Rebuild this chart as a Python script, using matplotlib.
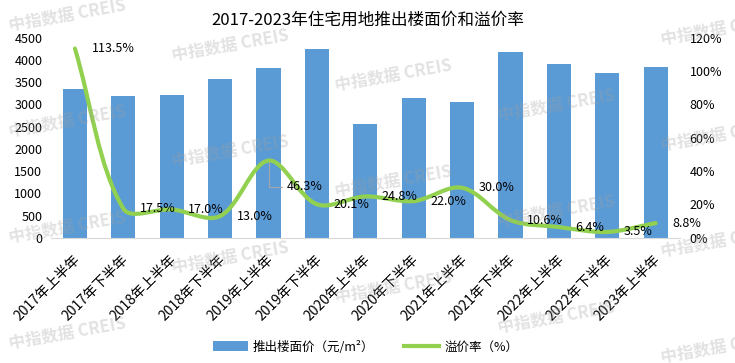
import matplotlib
matplotlib.use("Agg")
import matplotlib.pyplot as plt
from matplotlib.path import Path
from matplotlib.patches import PathPatch, Patch
from matplotlib.lines import Line2D

plt.rcParams['font.family'] = ['Noto Sans CJK SC', 'DejaVu Sans']

periods = ["2017年上半年", "2017年下半年", "2018年上半年", "2018年下半年", "2019年上半年",
           "2019年下半年", "2020年上半年", "2020年下半年", "2021年上半年", "2021年下半年",
           "2022年上半年", "2022年下半年", "2023年上半年"]
price = [3350, 3190, 3210, 3570, 3820, 4245, 2560, 3145, 3055, 4180, 3915, 3705, 3840]
premium = [113.5, 17.5, 17.0, 13.0, 46.3, 20.1, 24.8, 22.0, 30.0, 10.6, 6.4, 3.5, 8.8]
premium_labels = ["113.5%", "17.5%", "17.0%", "13.0%", "46.3%", "20.1%", "24.8%",
                  "22.0%", "30.0%", "10.6%", "6.4%", "3.5%", "8.8%"]

BLUE = "#5B9BD5"
GREEN = "#92D050"

fig = plt.figure(figsize=(7.35, 3.63), dpi=100)
ax = fig.add_axes([0.069, 0.345, 0.856, 0.551])
ax2 = ax.twinx()

x = list(range(len(periods)))
ax.bar(x, price, width=0.5, color=BLUE, zorder=2)
ax.set_xlim(-0.5, len(periods) - 0.5)
ax.set_ylim(0, 4500)
ax.set_yticks(range(0, 4501, 500))
ax.set_xticks(x)
ax.set_xticklabels([])
# category labels, slanted
for i, p in enumerate(periods):
    ax.annotate(p, xy=(i, 0), xycoords=('data', 'axes fraction'), xytext=(2, -14),
                textcoords='offset points', rotation=45, ha='right', va='center',
                rotation_mode='anchor', fontsize=10, annotation_clip=False)
ax.tick_params(axis='y', length=0, labelsize=9, pad=6)
ax.tick_params(axis='x', length=0)
for s in ['top', 'right', 'left']:
    ax.spines[s].set_visible(False)
ax.spines['bottom'].set_color('#d9d9d9')

ax2.set_ylim(0, 120)
ax2.set_yticks(range(0, 121, 20))
ax2.set_yticklabels([f"{v}%" for v in range(0, 121, 20)])
ax2.tick_params(axis='y', length=0, labelsize=9, pad=7)
for s in ax2.spines.values():
    s.set_visible(False)

# smoothed line like Excel: bezier control points scaled by segment lengths on screen
pix = ax2.transData.transform(list(zip(x, premium)))
n = len(pix)


def dist(a, b):
    return ((a[0] - b[0]) ** 2 + (a[1] - b[1]) ** 2) ** 0.5


verts = [tuple(pix[0])]
codes = [Path.MOVETO]
for i in range(n - 1):
    p0 = pix[max(i - 1, 0)]
    p1 = pix[i]
    p2 = pix[i + 1]
    p3 = pix[min(i + 2, n - 1)]
    d01, d12, d23 = dist(p0, p1), dist(p1, p2), dist(p2, p3)
    f1 = d12 / (d01 + d12) / 3
    f2 = d12 / (d12 + d23) / 3
    c1 = (p1[0] + (p2[0] - p0[0]) * f1, p1[1] + (p2[1] - p0[1]) * f1)
    c2 = (p2[0] - (p3[0] - p1[0]) * f2, p2[1] - (p3[1] - p1[1]) * f2)
    verts += [c1, c2, tuple(p2)]
    codes += [Path.CURVE4] * 3
verts = ax2.transData.inverted().transform(verts)
ax2.add_patch(PathPatch(Path(verts, codes), facecolor='none', edgecolor=GREEN,
                        lw=3, capstyle='round', zorder=3))

for i, (v, lab) in enumerate(zip(premium, premium_labels)):
    if i == 4:
        ax2.annotate(lab, xy=(i, v), xytext=(13, -19), textcoords='offset points',
                     ha='left', va='center', fontsize=9,
                     arrowprops=dict(arrowstyle='-', color='#a6a6a6', lw=0.8,
                                     connectionstyle='angle,angleA=0,angleB=90',
                                     relpos=(0, 0.5), shrinkA=1, shrinkB=1))
    else:
        ax2.annotate(lab, xy=(i, v), xytext=(12, 0), textcoords='offset points',
                     ha='left', va='center', fontsize=9)

fig.text(0.5, 0.945, "2017-2023年住宅用地推出楼面价和溢价率", ha='center', va='center', fontsize=12)

handles = [Patch(facecolor=BLUE, edgecolor='none'), Line2D([0], [0], color=GREEN, lw=3)]
fig.legend(handles, ["推出楼面价（元/m²）", "溢价率（%）"], loc='center',
           bbox_to_anchor=(0.497, 0.044), ncol=2, frameon=False, fontsize=9,
           handlelength=2.8, handleheight=0.8, handletextpad=0.4, columnspacing=2.4)

# watermarks
for i in range(5):
    for j in range(-1, 4):
        px = 67 + 163 * i
        py = 15 + 30 * i + 106 * j
        if 0 < py < 363:
            fig.text(px / 735, 1 - py / 363, "中指数据 CREIS", rotation=10, ha='center', va='center',
                     fontsize=12, fontweight='bold', color='#a0a0a0', alpha=0.3, zorder=10)

fig.savefig("out.png", dpi=100)
